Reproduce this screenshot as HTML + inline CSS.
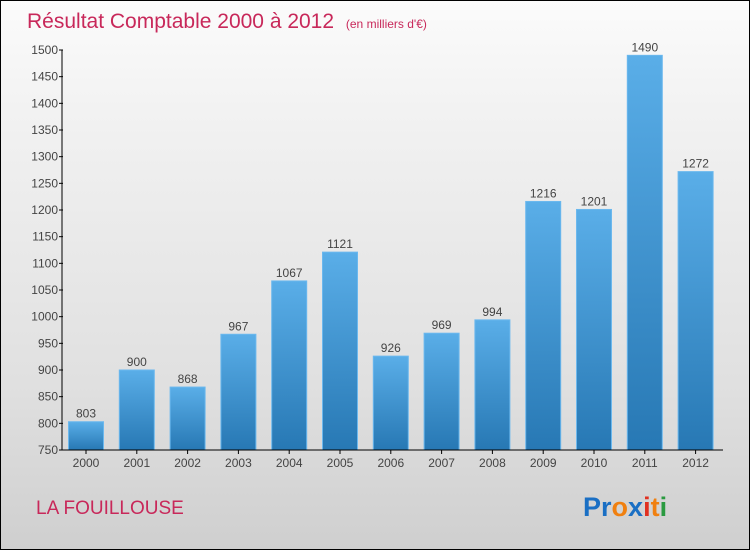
<!DOCTYPE html>
<html><head><meta charset="utf-8"><style>
body{margin:0}
#c{width:748px;height:548px;border:1px solid #000;position:relative;background:linear-gradient(#fbfbfb,#f2f2f2 20%,#e0e0e0 70%,#cfcfcf);font-family:"Liberation Sans",sans-serif;overflow:hidden}
svg{position:absolute;left:0;top:0}
</style></head><body>
<div id="c">
<svg width="748" height="548" id="s">
<defs><linearGradient id="g" x1="0" y1="0" x2="0" y2="1"><stop offset="0" stop-color="#5aaee8"/><stop offset="1" stop-color="#2778b4"/></linearGradient></defs>
<text x="26" y="27" font-size="21" fill="#c8285a">Résultat Comptable 2000 à 2012 <tspan font-size="12" dx="6">(en milliers d'€)</tspan></text>
<text x="35" y="513" font-size="19" fill="#c8285a">LA FOUILLOUSE</text>
<text x="582" y="515" font-size="27" font-weight="bold"><tspan fill="#1a6fc4">Pr</tspan><tspan fill="#f08010">o</tspan><tspan fill="#1a6fc4">x</tspan><tspan fill="#e03020">i</tspan><tspan fill="#f08010">t</tspan><tspan fill="#2a9a40">i</tspan></text>
</svg>
</div>
<script>
const years=["2000","2001","2002","2003","2004","2005","2006","2007","2008","2009","2010","2011","2012"];
const values=[803,900,868,967,1067,1121,926,969,994,1216,1201,1490,1272];
const yTicks=[750,800,850,900,950,1000,1050,1100,1150,1200,1250,1300,1350,1400,1450,1500];
const s=document.getElementById('s');const NS='http://www.w3.org/2000/svg';
function y(v){return 449-(v-750)*400/750;}
function x(i){return 85+i*50.8;}
function mk(t,a,txt){const e=document.createElementNS(NS,t);for(const k in a)e.setAttribute(k,a[k]);if(txt!=null)e.textContent=txt;s.appendChild(e);return e;}
values.forEach((v,i)=>{
 const r=mk('rect',{x:x(i)-17.5,y:y(v),width:35,height:y(750)-y(v),fill:'url(#g)',stroke:'#6bb8ee','stroke-width':1});
 
 
 const l=mk('text',{x:x(i),y:y(v)-4,'font-size':12,fill:'#444','text-anchor':'middle'},String(v));
 
 
 const t=mk('text',{x:x(i),y:466,'font-size':12,fill:'#444','text-anchor':'middle'},years[i]);
 
 
 mk('line',{x1:x(i),x2:x(i),y1:y(750),y2:y(750)+4,stroke:'#000'});
});
yTicks.forEach(v=>{
 mk('line',{x1:58,x2:62,y1:y(v),y2:y(v),stroke:'#000'});
 const t=mk('text',{x:57,y:y(v)+4,'font-size':12,fill:'#444','text-anchor':'end'},String(v));
 
 
});
const ya=mk('line',{x1:61,x2:61,y1:y(1500),y2:y(750),stroke:'#000'});


const xa=mk('line',{x1:61,x2:722,y1:y(750),y2:y(750),stroke:'#000'});


</script>
</body></html>
